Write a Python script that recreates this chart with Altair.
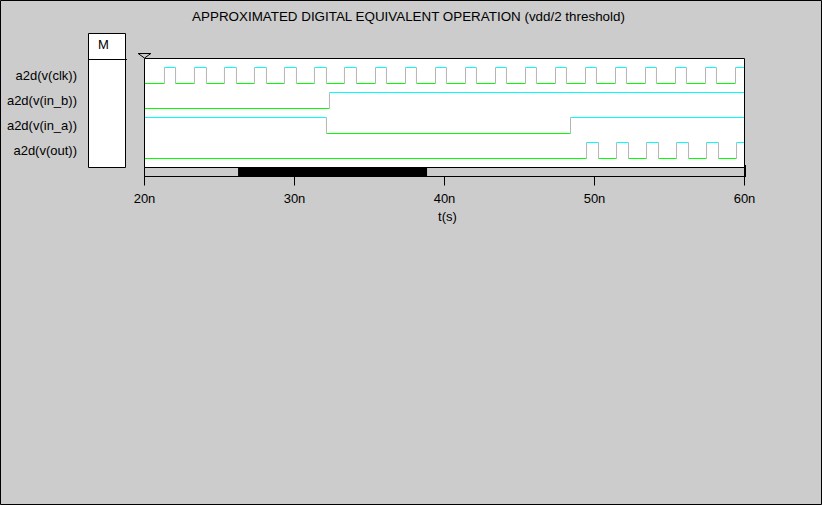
import altair as alt
import pandas as pd

# ---------------- data ----------------
title_text = "APPROXIMATED DIGITAL EQUIVALENT OPERATION (vdd/2 threshold)"
signal_names = ["a2d(v(clk))", "a2d(v(in_b))", "a2d(v(in_a))", "a2d(v(out))"]
initial_levels = [0, 0, 1, 0]

clk_rise = [21.33, 23.33, 25.33, 27.33, 29.33, 31.33, 33.33, 35.4, 37.4, 39.4,
            41.4, 43.4, 45.4, 47.4, 49.4, 51.4, 53.4, 55.4, 57.4, 59.4]
clk_fall = [22.07, 24.13, 26.13, 28.13, 30.13, 32.13, 34.13, 36.13, 38.13, 40.13,
            42.13, 44.13, 46.13, 48.13, 50.13, 52.13, 54.13, 56.13, 58.13]
in_b_edges = [32.33]
in_a_edges = [32.13, 48.4]
out_rise = [49.47, 51.47, 53.47, 55.47, 57.47, 59.47]
out_fall = [50.27, 52.27, 54.27, 56.27, 58.27]

t_start, t_end = 20, 60
tick_values = [20, 30, 40, 50, 60]
tick_suffix = "n"
axis_title = "t(s)"
cursor_time = 20
thumb_window = [26.27, 38.87]
marker_label = "M"

# ---------------- layout / style ----------------
FONT = "Liberation Sans"
FS = 13
LEFT, TOP = 144, 58
W, H = 600, 118
GREEN, CYAN, GRAY = "#00ff00", "#00ffff", "#b4b4b4"


def px(cx):
    """canvas x -> plot-relative x pixel"""
    return cx - LEFT


xs = alt.Scale(domain=[t_start, t_end], nice=False, zero=False)
ys = alt.Scale(domain=[TOP, TOP + H], nice=False, zero=False, reverse=True)

x_axis = alt.Axis(
    values=tick_values, labelExpr=f"datum.value + '{tick_suffix}'", title=axis_title,
    tickSize=9, tickColor="black", domainColor="black", labelColor="black",
    titleColor="black", labelFont=FONT, labelFontSize=FS, titleFont=FONT,
    titleFontSize=FS, titleFontWeight="normal", grid=False, labelPadding=7,
    labelFlush=False, labelOverlap=False, titleY=44, titleX=303,
    titleBaseline="alphabetic", domainWidth=1, tickWidth=1, zindex=1)

edge_lists = [
    sorted(clk_rise + clk_fall),
    in_b_edges,
    in_a_edges,
    sorted(out_rise + out_fall),
]

rows = []
labels = []
for i, (name, init, edges) in enumerate(zip(signal_names, initial_levels, edge_lists)):
    low_y = 83.5 + 25 * i
    high_y = low_y - 16
    labels.append(dict(name=name, y=low_y - 4))
    times = [t_start] + list(edges) + [t_end]
    lvl = init
    for a, b in zip(times[:-1], times[1:]):
        y = high_y if lvl else low_y
        rows.append(dict(t0=a, t1=b, y0=y, y1=y, kind="high" if lvl else "low"))
        lvl = 1 - lvl
    for e in edges:
        rows.append(dict(t0=e, t1=e, y0=high_y, y1=low_y, kind="edge"))

seg_df = pd.DataFrame(rows)
lab_df = pd.DataFrame(labels)
one = pd.DataFrame({"a": [0]})

# outer border of the whole picture
border = alt.Chart(one).mark_rect(
    fillOpacity=0, stroke="black", strokeWidth=1
).encode(
    x=alt.value(px(0.5)), x2=alt.value(px(821.5)),
    y=alt.value(0.5 - TOP), y2=alt.value(504.5 - TOP),
)

# title
title = alt.Chart(pd.DataFrame({"txt": [title_text]})).mark_text(
    font=FONT, fontSize=13.4, align="center", baseline="alphabetic", color="black"
).encode(
    x=alt.value(px(408.5)), y=alt.value(21 - TOP), text="txt:N"
)

# M box
mbox = alt.Chart(one).mark_rect(
    fill="white", stroke="black", strokeWidth=1
).encode(
    x=alt.value(px(88.5)), x2=alt.value(px(125.5)),
    y=alt.value(33.5 - TOP), y2=alt.value(167.5 - TOP),
)
mline = alt.Chart(one).mark_rule(color="black", strokeWidth=1).encode(
    x=alt.value(px(88)), x2=alt.value(px(127)),
    y=alt.value(59.5 - TOP),
)
mtext = alt.Chart(pd.DataFrame({"txt": [marker_label]})).mark_text(
    font=FONT, fontSize=FS, align="center", baseline="alphabetic", color="black"
).encode(
    x=alt.value(px(103.5)), y=alt.value(49 - TOP), text="txt:N"
)

# waveforms + signal names share the y scale
waves = alt.Chart(seg_df).mark_rule(strokeWidth=1, xOffset=0.5, x2Offset=0.5).encode(
    x=alt.X("t0:Q", scale=xs, axis=x_axis), x2="t1:Q",
    y=alt.Y("y0:Q", scale=ys, axis=None), y2="y1:Q",
    color=alt.Color("kind:N", scale=alt.Scale(domain=["low", "high", "edge"],
                                               range=[GREEN, CYAN, GRAY]), legend=None),
)
names = alt.Chart(lab_df).mark_text(
    font=FONT, fontSize=FS, align="right", baseline="alphabetic", color="black"
).encode(
    x=alt.value(px(77)), y=alt.Y("y:Q", scale=ys, axis=None), text="name:N"
)

# plot box (white fill) and its frame on top
box_df = pd.DataFrame({"s": [t_start], "e": [t_end]})
box_fill = alt.Chart(box_df).mark_rect(
    fill="white", strokeWidth=0, xOffset=0.5, x2Offset=0.5
).encode(
    x=alt.X("s:Q", scale=xs, axis=x_axis), x2="e:Q",
    y=alt.value(58.5 - TOP), y2=alt.value(167.5 - TOP),
)
box_frame = alt.Chart(box_df).mark_rect(
    fillOpacity=0, stroke="black", strokeWidth=1, xOffset=0.5, x2Offset=0.5
).encode(
    x=alt.X("s:Q", scale=xs, axis=x_axis), x2="e:Q",
    y=alt.value(58.5 - TOP), y2=alt.value(167.5 - TOP),
)

# scrollbar
scroll = alt.Chart(box_df).mark_rect(
    fillOpacity=0, stroke="black", strokeWidth=1, xOffset=0.5, x2Offset=0.5
).encode(
    x=alt.X("s:Q", scale=xs, axis=x_axis), x2="e:Q",
    y=alt.value(167.5 - TOP), y2=alt.value(176.5 - TOP),
)
scroll_end = alt.Chart(box_df).mark_rule(
    color="black", strokeWidth=2, xOffset=1
).encode(
    x=alt.X("e:Q", scale=xs, axis=x_axis),
    y=alt.value(165 - TOP), y2=alt.value(177 - TOP),
)
thumb = alt.Chart(pd.DataFrame({"s": [thumb_window[0]], "e": [thumb_window[1]]})).mark_rect(
    fill="black", strokeWidth=0
).encode(
    x=alt.X("s:Q", scale=xs, axis=x_axis), x2="e:Q",
    y=alt.value(168 - TOP), y2=alt.value(176 - TOP),
)

# cursor marker triangle
cursor = alt.Chart(pd.DataFrame({"t": [cursor_time]})).mark_point(
    shape="M -1 -0.36 L 1 -0.36 L 0 0.36 Z", filled=False, color="black",
    strokeWidth=1, size=160, opacity=1, xOffset=0.5
).encode(
    x=alt.X("t:Q", scale=xs, axis=x_axis), y=alt.value(55.8 - TOP)
)

chart = alt.layer(
    border, title, mbox, mline, mtext, names,
    box_fill, waves, box_frame, scroll, thumb, scroll_end, cursor,
).properties(
    width=W, height=H,
    padding={"left": LEFT, "top": TOP, "right": 822 - LEFT - W, "bottom": 505 - TOP - H},
    autosize="none",
).configure(background="#cccccc").configure_view(strokeWidth=0)

chart.save("out.html", embed_options={"renderer": "svg", "actions": False})
